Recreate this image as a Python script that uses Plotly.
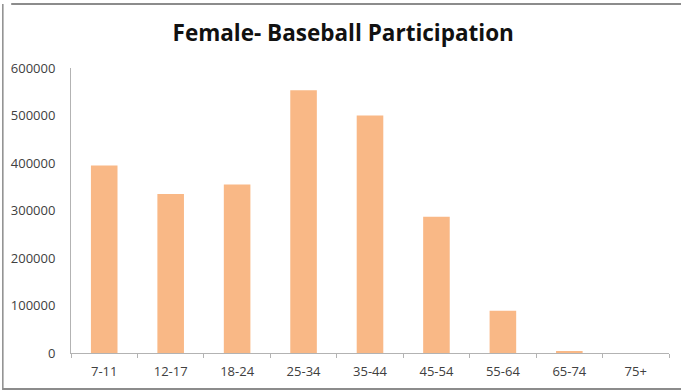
import plotly.graph_objects as go

# Female baseball participation by age group
age_groups = ["7-11", "12-17", "18-24", "25-34", "35-44", "45-54", "55-64", "65-74", "75+"]
participants = [395000, 335000, 355000, 553000, 500000, 287000, 89000, 4000, 0]
y_ticks = [0, 100000, 200000, 300000, 400000, 500000, 600000]

fig = go.Figure(
    go.Bar(
        x=age_groups,
        y=participants,
        marker=dict(color="#F9B886", line=dict(width=0)),
        width=0.4,
    )
)

fig.update_layout(
    width=681,
    height=392,
    margin=dict(l=71, r=12, t=68, b=39),
    paper_bgcolor="white",
    plot_bgcolor="white",
    showlegend=False,
    title=dict(
        text="<b>Female- Baseball Participation</b>",
        x=0.504,
        xanchor="center",
        y=0.915,
        yanchor="middle",
        font=dict(family="Open Sans", size=22.5, color="#111111"),
    ),
    font=dict(family="Open Sans", size=13, color="#595959"),
    shapes=[
        dict(type="line", xref="paper", yref="paper", x0=-0.1, x1=1.1, y0=1.225, y1=1.225,
             line=dict(color="#8C8C8C", width=2)),
        dict(type="line", xref="paper", yref="paper", x0=-0.114, x1=-0.114, y0=-0.13, y1=1.225,
             line=dict(color="#8C8C8C", width=1.5)),
        dict(type="line", xref="paper", yref="paper", x0=-0.114, x1=1.1, y0=-0.126, y1=-0.126,
             line=dict(color="#8C8C8C", width=2)),
    ],
)

fig.update_xaxes(
    showline=True,
    linecolor="#B3B3B3",
    linewidth=1,
    ticks="outside",
    tickson="boundaries",
    ticklen=4,
    tickcolor="#B3B3B3",
    showgrid=False,
    ticklabelstandoff=6,
    tickfont=dict(size=13, color="#404040"),
)

fig.update_yaxes(
    range=[0, 600000],
    tickvals=y_ticks,
    ticktext=[str(v) for v in y_ticks],
    showline=True,
    linecolor="#B3B3B3",
    linewidth=1,
    ticks="",
    showgrid=False,
    zeroline=False,
    ticklabelstandoff=12,
    tickfont=dict(size=13, color="#404040"),
)

fig.write_html("out.html")
